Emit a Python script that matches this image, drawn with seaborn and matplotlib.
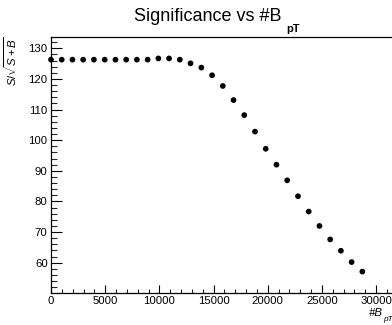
import numpy as np
import pandas as pd
import matplotlib
matplotlib.use("Agg")
import matplotlib.pyplot as plt
import seaborn as sns
from matplotlib.ticker import MultipleLocator

# data
nb_pt = [0, 990, 1980, 2970, 3960, 4960, 5950, 6940, 7930, 8920,
         9910, 10900, 11890, 12880, 13880, 14870, 15860, 16850, 17840, 18830,
         19820, 20810, 21800, 22800, 23790, 24780, 25770, 26760, 27750, 28740]
signif = [126.3, 126.3, 126.3, 126.3, 126.3, 126.3, 126.3, 126.3, 126.3, 126.3,
          126.7, 126.7, 126.3, 125.1, 123.7, 121.2, 117.7, 113.1, 108.2, 102.8,
          97.2, 92.0, 86.9, 81.7, 76.7, 72.0, 67.6, 63.9, 60.2, 57.1]
x_ticks = [0, 5000, 10000, 15000, 20000, 25000, 30000]
y_ticks = [60, 70, 80, 90, 100, 110, 120, 130]

df = pd.DataFrame({"x": nb_pt, "y": signif})

sns.set_style("ticks")
plt.rcParams["font.family"] = ["Liberation Sans", "DejaVu Sans"]
plt.rcParams["mathtext.fontset"] = "custom"
plt.rcParams["mathtext.rm"] = "Liberation Sans"
plt.rcParams["mathtext.it"] = "Liberation Sans:italic"
plt.rcParams["mathtext.bf"] = "Liberation Sans:bold"

W, H = 392, 325
fig = plt.figure(figsize=(W / 100, H / 100), dpi=100)
fig.patch.set_facecolor("white")
ax = fig.add_axes([51 / W, 32 / H, 341 / W, 256 / H])
ax.set_facecolor("white")

sns.scatterplot(data=df, x="x", y="y", ax=ax, color="black", s=17,
                edgecolor="none", clip_on=False, legend=False)

ax.set_xlim(0, 341 / 325 * 30000)
ax.set_ylim(50.1, 133.7)
ax.set_xticks(x_ticks)
ax.set_xticklabels([str(t) for t in x_ticks])
ax.set_yticks(y_ticks)
ax.set_yticklabels([str(t) for t in y_ticks])
ax.xaxis.set_minor_locator(MultipleLocator(1000))
ax.yaxis.set_minor_locator(MultipleLocator(2))
ax.tick_params(axis="x", which="major", direction="in", length=5.5, width=0.8,
               labelsize=8.2, pad=1.8, colors="black")
ax.tick_params(axis="x", which="minor", direction="in", length=2.8, width=0.8)
ax.tick_params(axis="y", which="major", direction="in", length=7.9, width=0.8,
               labelsize=8.2, pad=2.4, colors="black")
ax.tick_params(axis="y", which="minor", direction="in", length=4.0, width=0.8)
ax.set_xlabel("")
ax.set_ylabel("")
for side in ["left", "bottom", "top"]:
    ax.spines[side].set_visible(True)
    ax.spines[side].set_color("black")
    ax.spines[side].set_linewidth(0.9)
ax.spines["right"].set_visible(False)

# title
fig.text(281 / W, 1 - 20.7 / H, "Significance vs #B", ha="right", va="baseline",
         fontsize=13.0, color="black")
fig.text(286.5 / W, 1 - 31.5 / H, "pT", ha="left", va="baseline",
         fontsize=8.0, fontweight="bold", color="black")

# y label
fig.text(10.5 / W, 1 - 36 / H, r"$S/\sqrt{S+B}$", rotation=90, ha="center",
         va="top", fontsize=8.2, color="black")

# x label
fig.text(383 / W, 1 - 316 / H, "#B", ha="right", va="baseline",
         fontsize=8.2, style="italic", color="black")
fig.text(383.5 / W, 1 - 321 / H, "pT", ha="left", va="baseline",
         fontsize=6.0, style="italic", color="black")

fig.savefig("out.png", dpi=100, facecolor="white")
